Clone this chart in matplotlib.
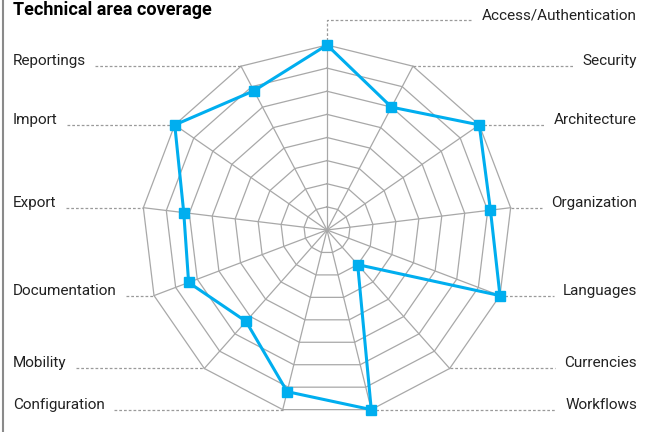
import numpy as np
import matplotlib
matplotlib.use("Agg")
import matplotlib.pyplot as plt

categories = ["Access/Authentication", "Security", "Architecture", "Organization",
              "Languages", "Currencies", "Workflows", "Configuration", "Mobility",
              "Documentation", "Export", "Import", "Reportings"]
values = [100, 75, 100, 89, 100, 25, 100, 90, 66, 80, 78, 100, 85]
max_value = 100
levels = 8
title = "Technical area coverage"

W, H, DPI = 649, 432, 100
cx_px, cy_px = 327, 230          # chart centre in pixels (from top-left)
r_px = 185                        # outer radius in pixels
ppu = r_px / max_value            # pixels per data unit

fig = plt.figure(figsize=(W / DPI, H / DPI), dpi=DPI)
ax = fig.add_axes([0, 0, 1, 1])
ax.set_xlim(-cx_px / ppu, (W - cx_px) / ppu)
ax.set_ylim(-(H - cy_px) / ppu, cy_px / ppu)
ax.set_aspect("equal")
ax.axis("off")

n = len(categories)
ang = np.arange(n) * 2 * np.pi / n
ux, uy = np.sin(ang), np.cos(ang)

grid_c = "#a8a8a8"
# rings
for k in range(1, levels + 1):
    r = max_value * k / levels
    xs = np.append(ux * r, ux[0] * r)
    ys = np.append(uy * r, uy[0] * r)
    ax.plot(xs, ys, color=grid_c, lw=0.9, zorder=1)
# spokes
for i in range(n):
    ax.plot([0, ux[i] * max_value], [0, uy[i] * max_value], color=grid_c, lw=0.9, zorder=1)

# data
v = np.array(values, dtype=float)
xs = np.append(ux * v, ux[0] * v[0])
ys = np.append(uy * v, uy[0] * v[0])
blue = "#00aeef"
ax.plot(xs, ys, color=blue, lw=2.2, zorder=3)
ax.plot(ux * v, uy * v, ls="none", marker="s", ms=6.5, color=blue, zorder=4)

# labels
font = ["Roboto", "DejaVu Sans"]
fs = 11
left_x = (13 - cx_px) / ppu
right_x = (637 - cx_px) / ppu
gap = 9 / ppu
dash_kw = dict(color="#9a9a9a", lw=0.9, ls=(0, (2.2, 1.6)), zorder=1)

fig.canvas.draw()
renderer = fig.canvas.get_renderer()
inv = ax.transData.inverted()

for i, name in enumerate(categories):
    vx, vy = ux[i] * max_value, uy[i] * max_value
    if i == 0:
        ly = (cy_px - 20) / ppu
        t = ax.text(right_x, ly + 1 / ppu, name, ha="right", va="baseline",
                    fontsize=fs, family=font, color="#222222")
        bb = t.get_window_extent(renderer)
        x0 = inv.transform((bb.x0, bb.y0))[0]
        ax.plot([vx, vx, x0 - gap], [vy, ly, ly], **dash_kw)
        continue
    ly = vy
    if vx > 0:
        t = ax.text(right_x, ly + 1 / ppu, name, ha="right", va="baseline",
                    fontsize=fs, family=font, color="#222222")
        bb = t.get_window_extent(renderer)
        x0 = inv.transform((bb.x0, bb.y0))[0]
        ax.plot([vx, x0 - gap], [ly, ly], **dash_kw)
    else:
        t = ax.text(left_x, ly + 1 / ppu, name, ha="left", va="baseline",
                    fontsize=fs, family=font, color="#222222")
        bb = t.get_window_extent(renderer)
        x1 = inv.transform((bb.x1, bb.y0))[0]
        ax.plot([x1 + gap, vx], [ly, ly], **dash_kw)

# title at the top-left, kept fully inside the picture
fig.text(13 / W, 1 - 1 / H, title, ha="left", va="top", fontsize=13,
         fontweight="bold", family=font, color="#000000")

# left border line
fig.add_artist(plt.Line2D([2.5 / W, 2.5 / W], [0, 1], color="#8a8a8a", lw=1.5))

fig.savefig("out.png", dpi=DPI)
